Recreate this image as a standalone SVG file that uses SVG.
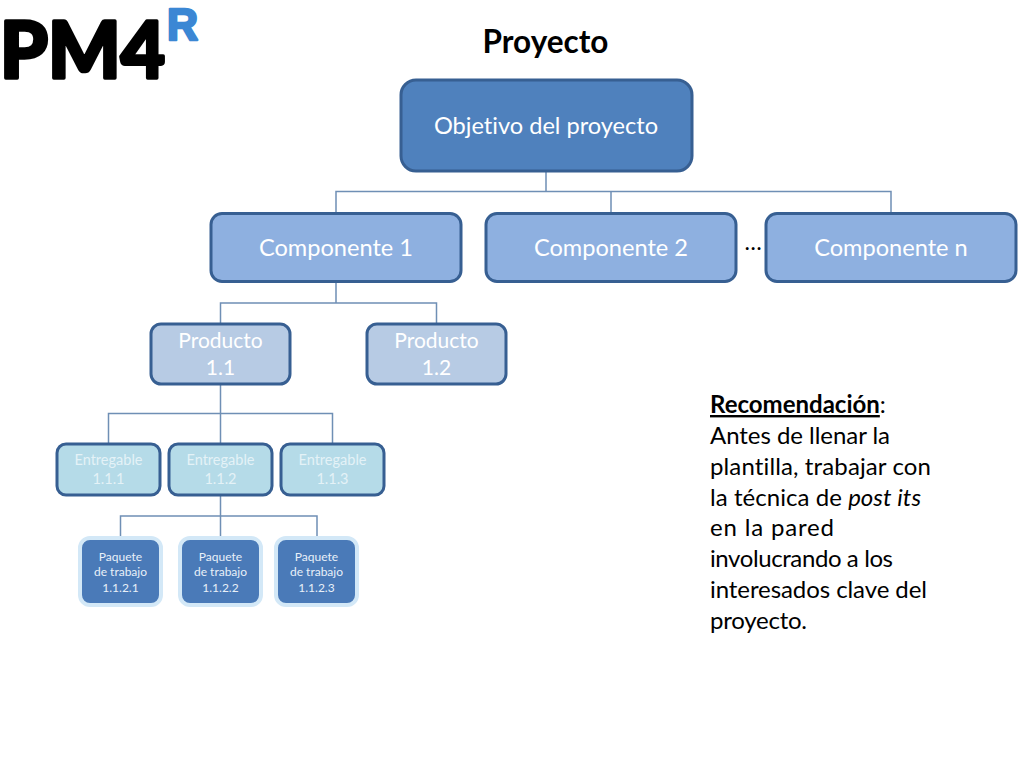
<svg xmlns="http://www.w3.org/2000/svg" width="1024" height="768" viewBox="0 0 1024 768">
<style>
text{font-family:"Lato","Carlito","Open Sans","Liberation Sans",sans-serif;text-anchor:middle;fill:#fff;font-variant-ligatures:none}
.l{stroke:#6f8fb5;stroke-width:1.5;fill:none}
.b{stroke:#375f92;stroke-width:3}
.t0{fill:#4f81bd}.t1{fill:#8eb0e0}.t2{fill:#b7cbe4}.t3{fill:#b5dbe8}
.p{fill:#4a7ab8;stroke:#d3e8f7;stroke-width:4}
.big{font-size:23.6px}.mid{font-size:21px}.sm{font-size:14.500px;fill:#e4f2f7}.xs{font-size:12px;fill:#e8f0f8}
.rec{font-size:24px;fill:#000;text-anchor:start}
</style>
<rect width="1024" height="768" fill="#fff"/>
<g id="logo">
<text x="0" y="78" font-size="78" font-weight="900" textLength="165" lengthAdjust="spacingAndGlyphs" style="text-anchor:start;fill:#000;stroke:#000;stroke-width:3.500;stroke-linejoin:round">PM4</text>
<text x="167" y="40" font-size="44" font-weight="700" textLength="31" lengthAdjust="spacingAndGlyphs" style="font-family:'Liberation Sans',sans-serif;text-anchor:start;fill:#3b87d4;stroke:#3b87d4;stroke-width:2.500;stroke-linejoin:round">R</text>
</g>
<g id="title"><text x="545.500" y="53" font-size="31.500" font-weight="700" style="fill:#000">Proyecto</text></g>
<g id="connectors">
<path class="l" d="M546 171V191.500M336 213V191.500H891V213M611 191.500V213"/>
<path class="l" d="M336 282V303M220.500 324V303H436.500V324"/>
<path class="l" d="M220.500 385V444M108.500 444V413.500H332.500V444"/>
<path class="l" d="M220.500 496V537M120.500 537V516H317V537"/>
</g>
<g id="n-objetivo"><rect class="t0 b" x="401" y="80" width="291" height="91" rx="15"/><text class="big" x="546" y="134">Objetivo del proyecto</text></g>
<g id="n-comp1"><rect class="t1 b" x="211" y="213.500" width="250" height="68" rx="11"/><text class="big" x="336" y="256">Componente 1</text></g>
<g id="n-comp2"><rect class="t1 b" x="486" y="213.500" width="250" height="68" rx="11"/><text class="big" x="611" y="256">Componente 2</text></g>
<g id="n-compn"><rect class="t1 b" x="766" y="213.500" width="250" height="68" rx="11"/><text class="big" x="891" y="256">Componente n</text></g>
<g id="dots"><text x="753" y="250" font-size="23" style="fill:#000">…</text></g>
<g id="n-p11"><rect class="t2 b" x="151" y="324" width="139" height="60" rx="10"/><text class="mid" x="220.500" y="348">Producto</text><text class="mid" x="220.500" y="375">1.1</text></g>
<g id="n-p12"><rect class="t2 b" x="367" y="324" width="139" height="60" rx="10"/><text class="mid" x="436.500" y="348">Producto</text><text class="mid" x="436.500" y="375">1.2</text></g>
<g id="n-e1"><rect class="t3 b" x="57" y="444" width="103" height="51" rx="9"/><text class="sm" x="108.500" y="465">Entregable</text><text class="sm" x="108.500" y="484">1.1.1</text></g>
<g id="n-e2"><rect class="t3 b" x="169" y="444" width="103" height="51" rx="9"/><text class="sm" x="220.500" y="465">Entregable</text><text class="sm" x="220.500" y="484">1.1.2</text></g>
<g id="n-e3"><rect class="t3 b" x="281" y="444" width="103" height="51" rx="9"/><text class="sm" x="332.500" y="465">Entregable</text><text class="sm" x="332.500" y="484">1.1.3</text></g>
<g id="n-w1"><rect class="p" x="80" y="538" width="81" height="67" rx="10"/><text class="xs" x="120.500" y="561">Paquete</text><text class="xs" x="120.500" y="576">de trabajo</text><text class="xs" x="120.500" y="592">1.1.2.1</text></g>
<g id="n-w2"><rect class="p" x="180" y="538" width="81" height="67" rx="10"/><text class="xs" x="220.500" y="561">Paquete</text><text class="xs" x="220.500" y="576">de trabajo</text><text class="xs" x="220.500" y="592">1.1.2.2</text></g>
<g id="n-w3"><rect class="p" x="276" y="538" width="81" height="67" rx="10"/><text class="xs" x="316.500" y="561">Paquete</text><text class="xs" x="316.500" y="576">de trabajo</text><text class="xs" x="316.500" y="592">1.1.2.3</text></g>
<g id="note">
<text class="rec" x="710" y="413"><tspan font-weight="700" text-decoration="underline">Recomendación</tspan>:</text>
<text class="rec" x="710" y="444" textLength="180">Antes de llenar la</text>
<text class="rec" x="710" y="475" textLength="221">plantilla, trabajar con</text>
<text class="rec" x="710" y="506" textLength="211">la técnica de <tspan font-style="italic">post its</tspan></text>
<text class="rec" x="710" y="536" textLength="124">en la pared</text>
<text class="rec" x="710" y="567" textLength="183">involucrando a los</text>
<text class="rec" x="710" y="598" textLength="217">interesados clave del</text>
<text class="rec" x="710" y="629" textLength="97">proyecto.</text>
</g>
</svg>
